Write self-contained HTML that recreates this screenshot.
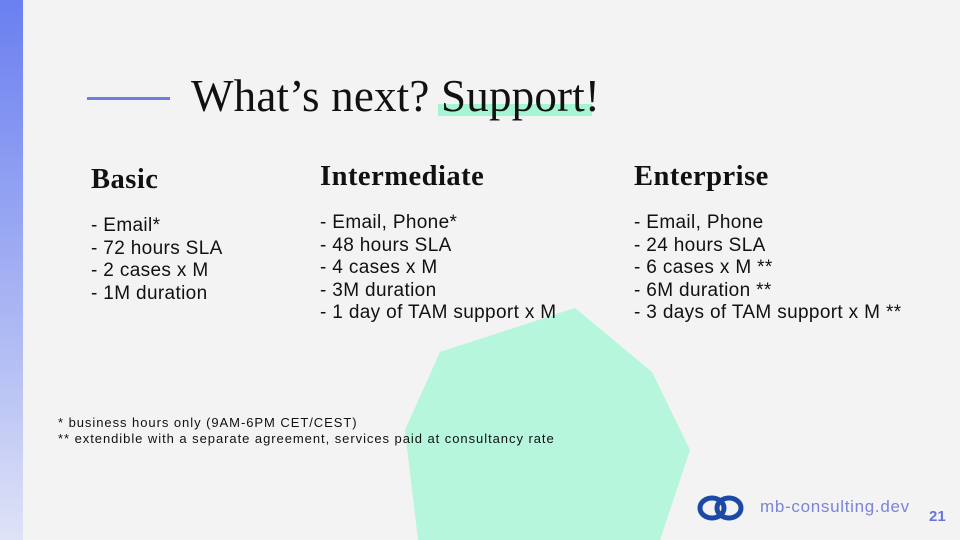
<!DOCTYPE html>
<html><head><meta charset="utf-8"><style>
body{margin:0;width:960px;height:540px;overflow:hidden;background:#f3f3f3;position:relative;font-family:"Liberation Sans",sans-serif;color:#111}
.bar{position:absolute;left:0;top:0;width:23px;height:540px;background:linear-gradient(#6a7ff0,#b8c2f4 70%,#dfe3f6)}
.line{position:absolute;left:87px;top:97px;width:83px;height:3px;background:#6a7fe6}
.title{position:absolute;left:191px;top:70px;font-family:"Liberation Serif",serif;font-size:45px;letter-spacing:0.2px;color:#111;white-space:nowrap}
.hl{position:absolute;left:438px;top:104px;width:154px;height:12px;background:#a4f5d4}
h2{position:absolute;margin:0;font-family:"Liberation Serif",serif;font-weight:bold;font-size:28.5px;letter-spacing:0.5px;color:#111}
.list{position:absolute;font-size:19px;letter-spacing:0.35px;line-height:22.6px;white-space:nowrap}
.foot{position:absolute;left:58px;top:415px;font-size:13px;letter-spacing:0.95px;line-height:16px;white-space:nowrap}
.url{position:absolute;left:760px;top:497px;font-size:17px;letter-spacing:0.7px;color:#7b84d8}
.num{position:absolute;left:929px;top:508px;font-size:15px;font-weight:bold;color:#6a74d8}
</style></head><body>
<div class="bar"></div>
<svg style="position:absolute;left:0;top:0" width="960" height="540"><polygon points="575,308 652,372 690,450 660,540 418,540 405,430 440,352" fill="#b5f6dc"/>
<g transform="translate(720,508)"><ellipse cx="-8" cy="0" rx="12" ry="10" fill="none" stroke="#1d49a6" stroke-width="5"/><ellipse cx="9" cy="0" rx="12" ry="10" fill="none" stroke="#1d49a6" stroke-width="5"/></g></svg>
<div class="line"></div>
<div class="hl"></div>
<div class="title">What’s next? Support!</div>
<h2 style="left:91px;top:164px">Basic</h2>
<h2 style="left:320px;top:161px">Intermediate</h2>
<h2 style="left:634px;top:161px">Enterprise</h2>
<div class="list" style="left:91px;top:215px">- Email*<br>- 72 hours SLA<br>- 2 cases x M<br>- 1M duration</div>
<div class="list" style="left:320px;top:212px">- Email, Phone*<br>- 48 hours SLA<br>- 4 cases x M<br>- 3M duration<br>- 1 day of TAM support x M</div>
<div class="list" style="left:634px;top:212px">- Email, Phone<br>- 24 hours SLA<br>- 6 cases x M **<br>- 6M duration **<br>- 3 days of TAM support x M **</div>
<div class="foot">* business hours only (9AM-6PM CET/CEST)<br>** extendible with a separate agreement, services paid at consultancy rate</div>
<div class="url">mb-consulting.dev</div>
<div class="num">21</div>
</body></html>
